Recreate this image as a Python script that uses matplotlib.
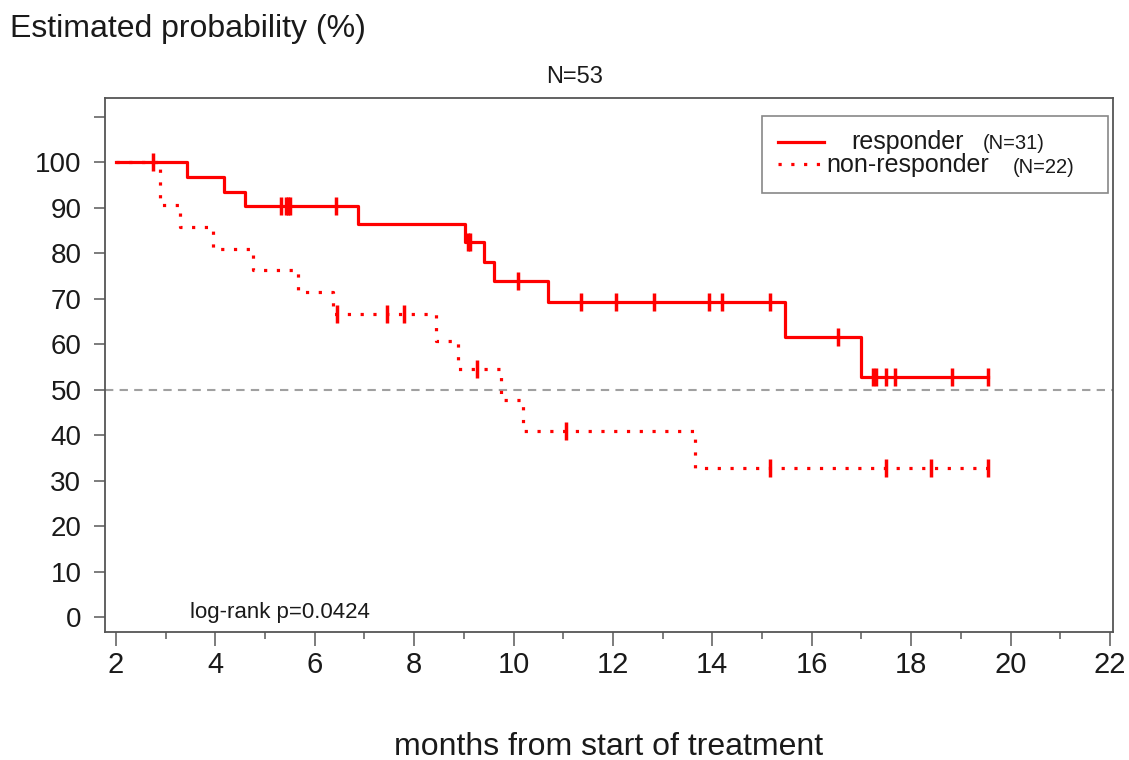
import numpy as np
import matplotlib
matplotlib.use("Agg")
import matplotlib.pyplot as plt
from matplotlib.patches import Rectangle

plt.rcParams['font.family'] = ['Liberation Sans', 'DejaVu Sans']

# responder group (N=31): step times and estimated probability (%)
resp_times = [2.0, 3.43, 4.18, 4.60, 6.88, 9.03, 9.41, 9.61, 10.70, 15.46, 17.00]
resp_surv = [100.0, 96.8, 93.5, 90.3, 86.4, 82.5, 78.1, 73.8, 69.2, 61.5, 52.7]
resp_end = 19.54
resp_censor = [5.32, 5.42, 5.47, 5.50, 6.43, 9.08, 9.12, 10.09, 11.36, 12.07,
               12.82, 13.93, 14.20, 15.16, 16.53, 17.24, 17.30, 17.50, 17.67,
               18.83, 19.54]

# non-responder group (N=22)
nonr_times = [2.0, 2.88, 3.29, 3.95, 4.75, 5.67, 6.37, 8.44, 8.88, 9.75, 10.20, 13.65]
nonr_surv = [100.0, 90.5, 85.7, 81.0, 76.2, 71.4, 66.7, 60.6, 54.5, 47.7, 40.9, 32.7]
nonr_end = 19.55
nonr_censor = [2.75, 6.44, 7.45, 7.79, 9.27, 11.06, 15.15, 17.50, 18.40, 19.55]

x_ticks = list(range(2, 23, 2))
y_ticks = list(range(0, 111, 10))
y_labels = [str(v) if v <= 100 else '' for v in y_ticks]

RED = '#ff0000'
LW = 2.3
DOTS = (0, (1, 3))


def level_at(times, surv, t):
    idx = np.searchsorted(times, t, side='right') - 1
    return np.asarray(surv)[idx]


fig = plt.figure(figsize=(11.29, 7.6), dpi=100)
ax = fig.add_axes([0.093, 0.1684, 0.8928, 0.7026])

# 50% reference line
ax.axhline(50, color='#a0a0a0', lw=1.5, ls=(0, (4, 3)), zorder=1)

# curves
ax.step(resp_times + [resp_end], resp_surv + [resp_surv[-1]], where='post',
        color=RED, lw=LW, zorder=3)
ax.step(nonr_times + [nonr_end], nonr_surv + [nonr_surv[-1]], where='post',
        color=RED, lw=LW, ls=DOTS, zorder=3)

# censor marks
ax.plot(resp_censor, level_at(resp_times, resp_surv, resp_censor), ls='none',
        marker='|', ms=13, mew=2.5, color=RED, zorder=4)
ax.plot(nonr_censor, level_at(nonr_times, nonr_surv, nonr_censor), ls='none',
        marker='|', ms=13, mew=2.5, color=RED, zorder=4)

ax.set_xlim(1.78, 22.06)
ax.set_ylim(-3.3, 114.1)

ax.set_xticks(x_ticks)
ax.set_xticks(range(3, 22, 2), minor=True)
ax.set_yticks(y_ticks)
ax.set_yticklabels(y_labels)
ax.tick_params(axis='y', length=8, width=1.2, color='#666666', pad=9,
               labelsize=20, labelcolor='#1a1a1a')
ax.tick_params(axis='x', which='major', length=10, width=1.2, color='#666666',
               pad=4, labelsize=21, labelcolor='#1a1a1a')
ax.tick_params(axis='x', which='minor', length=5, width=1.2, color='#666666')
for s in ax.spines.values():
    s.set_color('#555555')
    s.set_linewidth(1.3)

ax.set_xlabel('months from start of treatment', fontsize=23, color='#1a1a1a',
              labelpad=38)

fig.text(0.009, 0.962, 'Estimated probability (%)', fontsize=23,
         color='#1a1a1a', ha='left', va='center')
fig.text(0.509, 0.899, 'N=53', fontsize=17, color='#1a1a1a',
         ha='center', va='center')

ax.text(3.49, 1.1, 'log-rank p=0.0424', fontsize=16, color='#1a1a1a',
        ha='left', va='center')

# legend drawn by hand to mimic the original layout
ax.add_patch(Rectangle((15.0, 93.2), 6.96, 16.9, fill=False,
                       edgecolor='#888888', lw=1.2, zorder=5))
ax.plot([15.33, 16.25], [104.4, 104.4], color=RED, lw=LW, zorder=6)
ax.plot([15.33, 16.25], [99.5, 99.5], color=RED, lw=LW, ls=DOTS, zorder=6)
ax.text(16.79, 104.4, 'responder', fontsize=18, color='#1a1a1a',
        ha='left', va='center', zorder=6)
ax.text(19.45, 104.0, '(N=31)', fontsize=14.5, color='#1a1a1a',
        ha='left', va='center', zorder=6)
ax.text(16.29, 99.3, 'non-responder', fontsize=18, color='#1a1a1a',
        ha='left', va='center', zorder=6)
ax.text(20.04, 98.9, '(N=22)', fontsize=14.5, color='#1a1a1a',
        ha='left', va='center', zorder=6)

fig.savefig('out.png', dpi=100)
